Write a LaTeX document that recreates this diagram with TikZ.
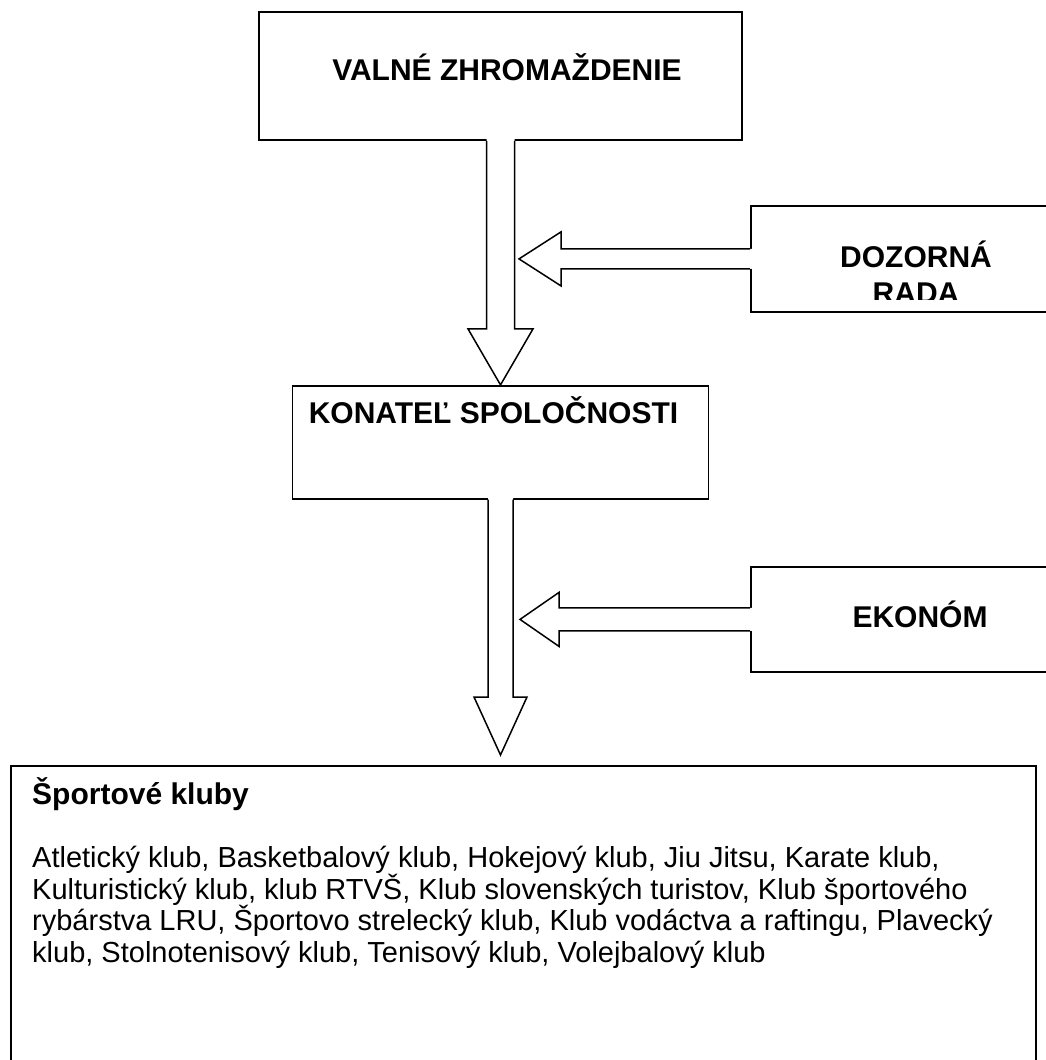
\documentclass[tikz,border=0pt]{standalone}
\usepackage{fontspec}
\setmainfont{Liberation Sans}
\usetikzlibrary{positioning}
\usetikzlibrary{calc}
\tikzset {
  % framed box of the chart
  org box/.style = {
    draw = black,
    line width = 1.8pt,
    rectangle,
    inner sep = 0
  },
  % bold caption inside a box
  box title/.style = {
    font = \fontsize{30}{36}\selectfont\bfseries,
    inner sep = 0
  },
  % list of the clubs
  club text/.style = {
    font = \fontsize{29}{31.5}\selectfont,
    inner sep = 0,
    align = left
  },
  arrow line/.style = {
    draw = black,
    line width = 1.5pt,
    line join = miter
  }
}
% hollow block arrow: tail, tip, shaft half width, head half width, head length
\newcommand{\hollowarrow}[5]{%
  \coordinate (neck) at ($(#2)!#5!(#1)$);
  \coordinate (back) at ($(#1)!-2pt!(#2)$);
  \fill[white] ($(back)!#3!90:(#2)$) -- ($(neck)!#3!90:(#2)$)
    -- ($(neck)!#4!90:(#2)$) -- (#2) -- ($(neck)!#4!-90:(#2)$)
    -- ($(neck)!#3!-90:(#2)$) -- ($(back)!#3!-90:(#2)$) -- cycle;
  \draw[arrow line] ($(#1)!#3!90:(#2)$) -- ($(neck)!#3!90:(#2)$)
    -- ($(neck)!#4!90:(#2)$) -- (#2) -- ($(neck)!#4!-90:(#2)$)
    -- ($(neck)!#3!-90:(#2)$) -- ($(#1)!#3!-90:(#2)$);
}
\begin{document}
\begin{tikzpicture}[x=1pt, y=-1pt]
    \useasboundingbox (0,0) rectangle (1046,1060);
    \clip (0,0) rectangle (1046,1060);
    \node[org box, minimum width=483pt, minimum height=128pt] (vz) at (500.5,76) {};
    \node[org box, minimum width=416pt, minimum height=113pt] (kon) [below=244pt of vz] {};
    \node[org box, minimum width=1025pt, minimum height=330pt, anchor=north west] (clubs) at (10,765) {};
    \node[org box, minimum width=340pt, minimum height=106pt, anchor=north west] (dz) at (750,205) {};
    \node[org box, minimum width=340pt, minimum height=105pt, anchor=north west] (ek) at (750,566) {};

    \coordinate (kon-out) at ($(kon.south |- clubs.north)+(0,-10)$);
    \coordinate (dz-in) at ($(dz.west)-(231,0)$);
    \coordinate (ek-in) at ($(ek.west)-(230,0)$);

    \hollowarrow{vz.south}{kon.north}{14pt}{32.5pt}{56pt}
    \hollowarrow{kon.south}{kon-out}{12.5pt}{26.5pt}{58pt}
    \hollowarrow{dz.west}{dz-in}{10pt}{27pt}{42pt}
    \hollowarrow{ek.west}{ek-in}{11.5pt}{27pt}{39pt}

    \node[box title, anchor=base] (vz-label) at (507,80) {VALNÉ ZHROMAŽDENIE};
    \node[box title, anchor=base] (kon-label) at (493.5,423) {KONATEĽ SPOLOČNOSTI};
    \begin{scope}
      \clip (752,207) rectangle (1046,299);
      \node[box title, anchor=base] (dz-label) at (916,267) {DOZORNÁ};
      \node[box title, anchor=base] (dz-label2) at (916,303) {RADA};
    \end{scope}
    \node[box title, anchor=base] (ek-label) at (920,627) {EKONÓM};
    \node[box title, anchor=base west] (clubs-title) at (32,804) {Športové kluby};
    \node[club text, anchor=north west] (clubs-list) at (32,846) {Atletický klub, Basketbalový klub, Hokejový klub, Jiu Jitsu, Karate klub,\\
      Kulturistický klub, klub RTVŠ, Klub slovenských turistov, Klub športového\\
      rybárstva LRU, Športovo strelecký klub, Klub vodáctva a raftingu, Plavecký\\
      klub, Stolnotenisový klub, Tenisový klub, Volejbalový klub};
  \end{tikzpicture}
\end{document}
